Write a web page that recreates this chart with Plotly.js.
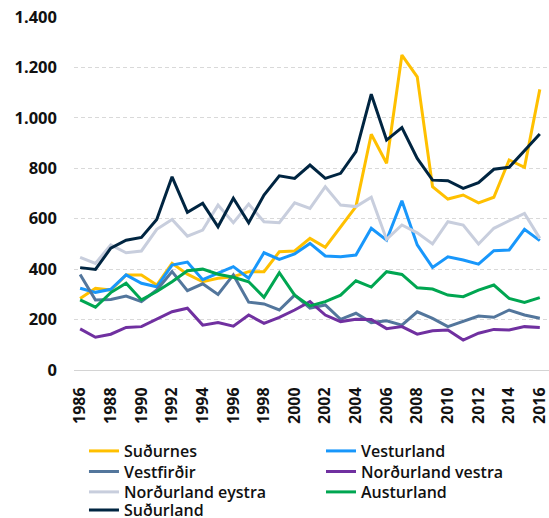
<!DOCTYPE html>
<html>
<head>
<meta charset="utf-8">
<script src="https://cdn.plot.ly/plotly-3.0.1.min.js"></script>
<style>
  html, body { margin: 0; padding: 0; background: #fff; }
  #chart { width: 549px; height: 518px; }
</style>
</head>
<body>
<div id="chart"></div>
<script>
const years = [];
for (let y = 1986; y <= 2016; y++) years.push(y);

const sudurnes = [284, 324, 317, 377, 377, 337, 423, 380, 350, 364, 370, 390, 390, 469, 472, 522, 487, 568, 648, 935, 820, 1249, 1163, 727, 678, 694, 663, 685, 833, 804, 1113];
const vesturland = [324, 308, 320, 377, 344, 330, 416, 428, 358, 383, 410, 364, 465, 439, 460, 502, 452, 449, 456, 562, 515, 671, 496, 407, 449, 436, 420, 473, 476, 558, 513];
const vestfirdir = [379, 278, 280, 293, 271, 317, 390, 315, 342, 300, 377, 269, 262, 238, 297, 245, 258, 201, 225, 188, 195, 178, 231, 205, 172, 192, 214, 209, 238, 218, 205];
const nordurlandVestra = [163, 130, 142, 169, 172, 201, 231, 245, 178, 188, 174, 218, 185, 209, 238, 271, 218, 192, 201, 200, 164, 172, 142, 156, 159, 119, 146, 161, 159, 172, 169];
const nordurlandEystra = [447, 423, 496, 465, 472, 558, 597, 531, 555, 654, 584, 658, 588, 584, 663, 641, 727, 654, 648, 685, 518, 575, 544, 500, 588, 575, 500, 562, 592, 621, 522];
const austurland = [278, 249, 307, 344, 278, 311, 350, 394, 400, 380, 368, 350, 288, 386, 297, 254, 271, 297, 354, 329, 390, 379, 326, 321, 297, 291, 317, 337, 284, 268, 287];
const sudurland = [406, 399, 483, 515, 526, 597, 766, 625, 661, 568, 681, 584, 694, 770, 760, 813, 760, 780, 866, 1094, 912, 961, 839, 753, 751, 720, 743, 796, 804, 872, 936];

const seriesNames = ["Suðurnes", "Vesturland", "Vestfirðir", "Norðurland vestra", "Norðurland eystra", "Austurland", "Suðurland"];
const seriesValues = [sudurnes, vesturland, vestfirdir, nordurlandVestra, nordurlandEystra, austurland, sudurland];
const seriesColors = ["#ffc000", "#1897fb", "#53769c", "#7030a0", "#c8cedd", "#00a651", "#002541"];

const tickYears = years.filter(y => y % 2 === 0);

const tickFont = { family: "Open Sans, sans-serif", size: 16.5, color: "#111", weight: 700 };
const xTickFont = { family: "Open Sans, sans-serif", size: 16, color: "#111", weight: 700 };
const legendFont = { family: "Open Sans, sans-serif", size: 16, color: "#111", weight: 600 };

// legend laid out as two columns, one small legend per entry
const legendCols = [0.021, 0.52];
const legendRows = [-0.2295, -0.2875, -0.3456, -0.397];

const traces = seriesNames.map((name, i) => ({
  type: "scatter",
  mode: "lines",
  name: name,
  x: years,
  y: seriesValues[i],
  line: { color: seriesColors[i], width: 3 },
  legend: i === 0 ? "legend" : "legend" + (i + 1),
}));

const layout = {
  width: 549,
  height: 518,
  margin: { l: 74, r: 0, t: 17, b: 148, autoexpand: false },
  paper_bgcolor: "#fff",
  plot_bgcolor: "#fff",
  separators: ",.",
  font: legendFont,
  showlegend: true,
  xaxis: {
    range: [1985.6, 2016.6],
    tickmode: "array",
    tickvals: tickYears,
    ticktext: tickYears.map(String),
    tickangle: -90,
    showgrid: false,
    showline: true,
    linecolor: "#d4d4d4",
    linewidth: 1,
    ticks: "",
    ticklabelstandoff: 10,
    ticklabeloverflow: "allow",
    tickfont: xTickFont,
    zeroline: false,
    fixedrange: true,
  },
  yaxis: {
    range: [0, 1400],
    tickvals: [0, 200, 400, 600, 800, 1000, 1200, 1400],
    tickformat: ",",
    showgrid: true,
    gridcolor: "#d9d9d9",
    griddash: "4px,3px",
    gridwidth: 1,
    zeroline: false,
    showline: false,
    ticks: "",
    ticklabelstandoff: 16,
    tickfont: tickFont,
    fixedrange: true,
  },
};

seriesNames.forEach((name, i) => {
  const key = i === 0 ? "legend" : "legend" + (i + 1);
  layout[key] = {
    orientation: "v",
    x: legendCols[i % 2],
    xanchor: "left",
    y: legendRows[Math.floor(i / 2)],
    yanchor: "middle",
    borderwidth: 0,
    bgcolor: "rgba(0,0,0,0)",
    font: legendFont,
  };
});

Plotly.newPlot("chart", traces, layout, { displayModeBar: false, staticPlot: true });
</script>
</body>
</html>
